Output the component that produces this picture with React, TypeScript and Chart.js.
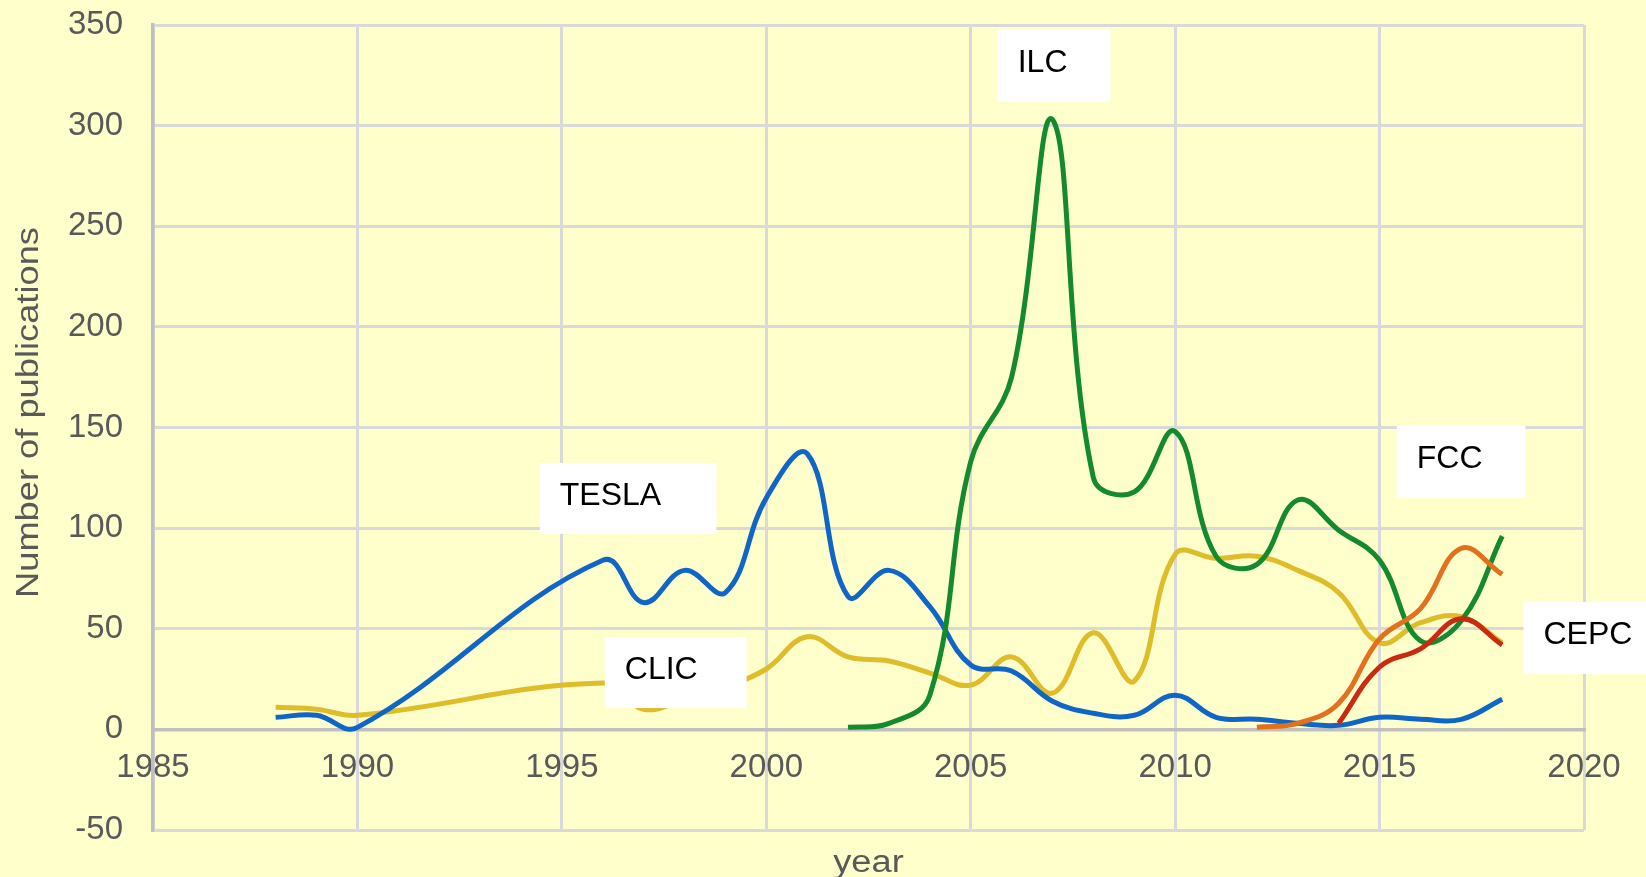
import React, { useEffect, useRef } from 'react';
import { Chart, registerables } from 'chart.js';

Chart.register(...registerables);

// ---- data ----
const teslaYears = [1988, 1989, 1990, 1996, 1997, 1998, 1999, 2000, 2001, 2002, 2003, 2004, 2005, 2006, 2007, 2008, 2009, 2010, 2011, 2012, 2013, 2014, 2015, 2016, 2017, 2018];
const teslaValues = [6, 7, 1, 84, 63, 79, 68, 115, 137, 66, 79, 61, 32, 29, 14, 8, 7, 17, 6, 5, 3, 2, 6, 5, 5, 15];

const clicYears = [1988, 1989, 1990, 1996, 1997, 1998, 1999, 2000, 2001, 2002, 2003, 2004, 2005, 2006, 2007, 2008, 2009, 2010, 2011, 2012, 2013, 2014, 2015, 2016, 2017, 2018];
const clicValues = [11, 10, 7, 23, 10, 15, 21, 30, 46, 36, 34, 28, 22, 36, 18, 48, 24, 87, 85, 86, 79, 68, 43, 53, 56, 43];

const ilcYears = [2002, 2003, 2004, 2005, 2006, 2007, 2008, 2009, 2010, 2011, 2012, 2013, 2014, 2015, 2016, 2017, 2018];
const ilcValues = [1, 3, 17, 133, 175, 303, 125, 118, 148, 86, 82, 114, 99, 84, 44, 54, 96];

const fccYears = [2012, 2013, 2014, 2015, 2016, 2017, 2018];
const fccValues = [1, 3, 13, 45, 60, 90, 77];

const cepcYears = [2014, 2015, 2016, 2017, 2018];
const cepcValues = [3, 31, 40, 55, 42];

// ---- annotation labels (in data units) ----
const labelTexts = ['TESLA', 'CLIC', 'ILC', 'FCC', 'CEPC'];
const labelX1 = [1994.46, 1996.05, 2005.66, 2015.42, 2018.52];
const labelX2 = [1998.78, 1999.52, 2008.42, 2018.57, 2021.6];
const labelYTop = [132.4, 45.9, 347.6, 150.8, 63.3];
const labelYBottom = [97.1, 10.6, 311.8, 115.0, 27.5];

const xTitle = 'year';
const yTitle = 'Number of publications';

const FONT = '"Liberation Sans", Arial, sans-serif';

const toXY = (xs: number[], ys: number[]) => xs.map((x, i) => ({ x, y: ys[i] }));

export default function App() {
  const ref = useRef<HTMLCanvasElement>(null);

  useEffect(() => {
    if (!ref.current) return;

    const bgPlugin = {
      id: 'bgFill',
      beforeDraw(chart: any) {
        const { ctx, width, height } = chart;
        ctx.save();
        ctx.fillStyle = '#FFFFCC';
        ctx.fillRect(0, 0, width, height);
        ctx.restore();
      },
    };

    const boxLabels = {
      id: 'boxLabels',
      afterDatasetsDraw(chart: any) {
        const { ctx, scales } = chart;
        const xs = scales.x;
        const ys = scales.y;
        ctx.save();
        labelTexts.forEach((t, i) => {
          const l = xs.getPixelForValue(labelX1[i]);
          const r = xs.getPixelForValue(labelX2[i]);
          const top = ys.getPixelForValue(labelYTop[i]);
          const b = ys.getPixelForValue(labelYBottom[i]);
          ctx.fillStyle = '#FFFFFF';
          ctx.fillRect(l, top, r - l, b - top);
          ctx.fillStyle = '#000000';
          ctx.font = `32px ${FONT}`;
          ctx.textAlign = 'left';
          ctx.textBaseline = 'alphabetic';
          ctx.fillText(t, l + 20, top + 42);
        });
        ctx.restore();
      },
    };

    const axisTitles = {
      id: 'axisTitles',
      afterDraw(chart: any) {
        const { ctx, chartArea } = chart;
        ctx.save();
        ctx.fillStyle = '#595959';
        ctx.font = `31px ${FONT}`;
        ctx.textAlign = 'center';
        ctx.textBaseline = 'middle';
        // x title
        ctx.save();
        ctx.translate((chartArea.left + chartArea.right) / 2, chartArea.bottom + 33);
        ctx.scale(1.17, 1);
        ctx.fillText(xTitle, 0, 0);
        ctx.restore();
        // y title
        ctx.save();
        ctx.translate(29, (chartArea.top + chartArea.bottom) / 2 - 15);
        ctx.rotate(-Math.PI / 2);
        ctx.scale(1.17, 1);
        ctx.fillText(yTitle, 0, 0);
        ctx.restore();
        ctx.restore();
      },
    };

    const chart = new Chart(ref.current, {
      type: 'line',
      data: {
        datasets: [
          { label: 'CEPC', data: toXY(cepcYears, cepcValues), borderColor: '#C92A10' },
          { label: 'FCC', data: toXY(fccYears, fccValues), borderColor: '#E3701C' },
          { label: 'ILC', data: toXY(ilcYears, ilcValues), borderColor: '#138A2C' },
          { label: 'TESLA', data: toXY(teslaYears, teslaValues), borderColor: '#1066C6' },
          { label: 'CLIC', data: toXY(clicYears, clicValues), borderColor: '#DEBC2A' },
        ],
      },
      options: {
        animation: false,
        responsive: false,
        devicePixelRatio: 1,
        layout: { padding: { top: 25, right: 62, bottom: 47, left: 0 } },
        plugins: {
          legend: { display: false },
          tooltip: { enabled: false },
          title: { display: false },
        },
        elements: {
          point: { radius: 0, hoverRadius: 0 },
          line: { tension: 0.4, borderWidth: 5, fill: false, capBezierPoints: true },
        },
        scales: {
          x: {
            type: 'linear',
            min: 1985,
            max: 2020,
            position: { y: 0 } as any,
            ticks: {
              stepSize: 5,
              autoSkip: false,
              maxRotation: 0,
              color: '#595959',
              font: { size: 33, family: FONT },
              padding: 19,
              callback: (v: any) => String(v),
            },
            grid: { color: '#D9D9D9', lineWidth: 3, drawTicks: false },
            border: { color: '#BFBFBF', width: 3.5 },
          },
          y: {
            type: 'linear',
            min: -50,
            max: 350,
            position: 'left',
            ticks: {
              stepSize: 50,
              color: '#595959',
              font: { size: 33, family: FONT },
              padding: 30,
            },
            grid: { color: '#D9D9D9', lineWidth: 3, drawTicks: false },
            border: { color: '#BFBFBF', width: 3.5 },
            afterFit: (s: any) => {
              s.width = 153;
              s.paddingTop = 0;
              s.paddingBottom = 0;
            },
          },
        },
      } as any,
      plugins: [bgPlugin, boxLabels, axisTitles],
    });

    return () => chart.destroy();
  }, []);

  return (
    <div style={{ position: 'fixed', left: 0, top: 0, width: 1646, height: 877, background: '#FFFFCC' }}>
      <canvas ref={ref} width={1646} height={877} style={{ display: 'block' }} />
    </div>
  );
}
